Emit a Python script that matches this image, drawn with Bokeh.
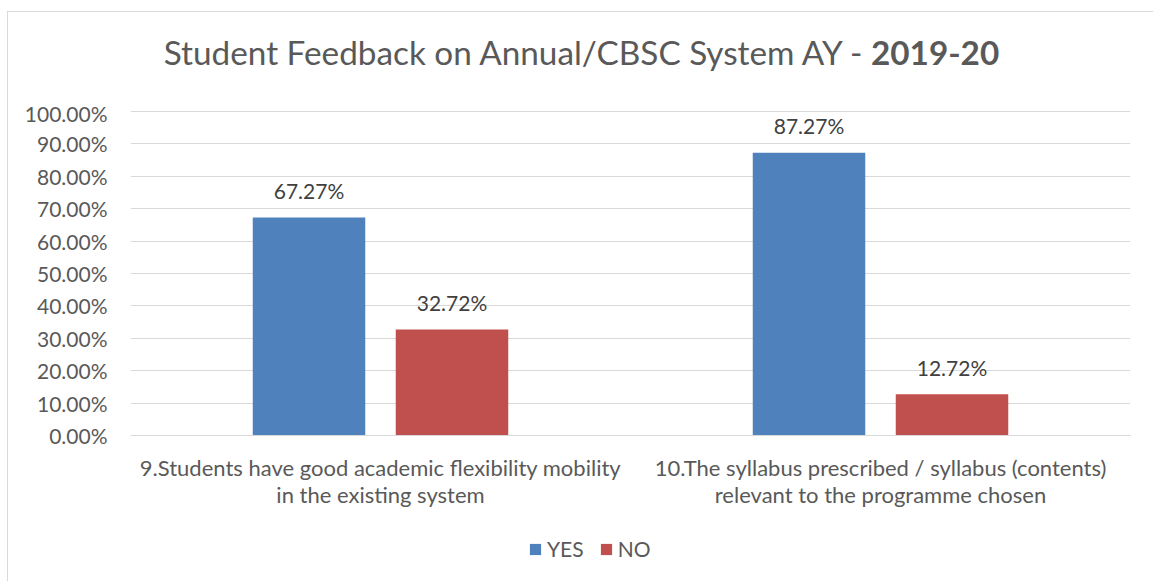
from bokeh.plotting import figure
from bokeh.layouts import column
from bokeh.models import (FactorRange, Range1d, ColumnDataSource, Legend, LegendItem,
                          NumeralTickFormatter, FixedTicker, Div)
from bokeh.core.properties import value
from bokeh.transform import dodge
from bokeh.embed import file_html
from bokeh.resources import INLINE

title_main = "Student Feedback on Annual/CBSC System AY - "
title_bold = "2019-20"
categories = ["9.Students have good academic flexibility mobility\nin the existing system",
              "10.The syllabus prescribed / syllabus (contents)\nrelevant to the programme chosen"]
series = ["YES", "NO"]
yes_values = [0.6727, 0.8727]
no_values = [0.3272, 0.1272]
yes_labels = ["67.27%", "87.27%"]
no_labels = ["32.72%", "12.72%"]
y_ticks = [0.0, 0.1, 0.2, 0.3, 0.4, 0.5, 0.6, 0.7, 0.8, 0.9, 1.0]

FONT = "Lato"
TXT = "#595959"
BLUE = "#4F81BD"
RED = "#C0504D"

src = ColumnDataSource(dict(cat=categories, yes=yes_values, no=no_values,
                            yl=yes_labels, nl=no_labels))

p = figure(x_range=FactorRange(*categories, range_padding=0), y_range=Range1d(0, 1.003),
           frame_width=1000, frame_height=325, output_backend="svg", toolbar_location=None,
           min_border_left=122, min_border_right=15, min_border_top=10, min_border_bottom=100)
p.outline_line_color = None

r_yes = p.vbar(x=dodge("cat", -0.143, range=p.x_range), top="yes", width=0.225, source=src,
               color=BLUE, line_color=None)
r_no = p.vbar(x=dodge("cat", 0.143, range=p.x_range), top="no", width=0.225, source=src,
              color=RED, line_color=None)

p.text(x=dodge("cat", -0.143, range=p.x_range), y="yes", text="yl", source=src,
       text_align="center", text_baseline="middle", y_offset=-27,
       text_font=value(FONT), text_font_size="21px", text_color="#404040")
p.text(x=dodge("cat", 0.143, range=p.x_range), y="no", text="nl", source=src,
       text_align="center", text_baseline="middle", y_offset=-27,
       text_font=value(FONT), text_font_size="21px", text_color="#404040")

p.yaxis.ticker = FixedTicker(ticks=y_ticks)
p.yaxis.formatter = NumeralTickFormatter(format="0.00%")
p.yaxis.axis_line_color = None
p.yaxis.major_tick_line_color = None
p.yaxis.minor_tick_line_color = None
p.yaxis.major_label_standoff = 17
p.yaxis.major_label_text_font = FONT
p.yaxis.major_label_text_font_size = "21px"
p.yaxis.major_label_text_color = TXT

p.xaxis.axis_line_color = "#d9d9d9"
p.xaxis.major_tick_line_color = None
p.xaxis.major_label_standoff = 12
p.xaxis.major_label_text_font = FONT
p.xaxis.major_label_text_font_size = "22px"
p.xaxis.major_label_text_line_height = 1.0
p.xaxis.major_label_text_color = TXT

p.xgrid.grid_line_color = None
p.ygrid.grid_line_color = "#d9d9d9"
p.ygrid.ticker = FixedTicker(ticks=y_ticks)

# legend strip (separate figure so the legend is not clipped by the main frame);
# its bars use the same data but lie outside this strip's visible y range
lg = figure(width=1137, height=46, x_axis_type=None, y_axis_type=None,
            x_range=Range1d(0, 1), y_range=Range1d(2, 3),
            output_backend="svg", toolbar_location=None,
            min_border_left=0, min_border_right=0, min_border_top=0, min_border_bottom=0)
lg.outline_line_color = None
lg.grid.grid_line_color = None
lg_yes = lg.vbar(x="yes", top="yes", bottom=0, width=0.01, source=src, color=BLUE, line_color=None)
lg_no = lg.vbar(x="no", top="no", bottom=0, width=0.01, source=src, color=RED, line_color=None)
legend = Legend(items=[LegendItem(label=series[0], renderers=[lg_yes], index=0),
                       LegendItem(label=series[1], renderers=[lg_no], index=0)],
                orientation="horizontal", location=(398, 20),
                label_text_font=FONT, label_text_font_size="21px", label_text_color=TXT,
                glyph_width=14, glyph_height=14, spacing=15, label_standoff=5,
                border_line_color=None, background_fill_alpha=0, padding=0, margin=0,
                label_height=21)
lg.add_layout(legend)

title = Div(text=(f'<div style="margin-top:12px;width:1137px;text-align:center;'
                  f'font-family:{FONT};font-size:33.3px;color:{TXT};white-space:nowrap">'
                  f'{title_main}<b>{title_bold}</b></div>'),
            width=1137, height=78)

layout = column(title, p, lg, spacing=0,
                styles={"margin-left": "7px", "margin-top": "11px",
                        "border-left": "1px solid #d9d9d9", "border-top": "1px solid #d9d9d9"})

open("out.html", "w").write(file_html(layout, INLINE))
